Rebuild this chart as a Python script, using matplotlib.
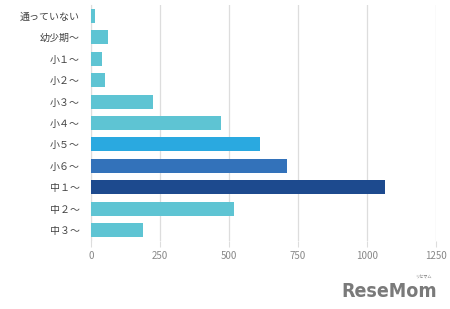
import matplotlib
matplotlib.use("Agg")
import matplotlib.pyplot as plt

plt.rcParams['font.family'] = ['Noto Sans CJK JP', 'DejaVu Sans']

categories = ["通っていない", "幼少期～", "小１～", "小２～", "小３～", "小４～",
              "小５～", "小６～", "中１～", "中２～", "中３～"]
values = [15, 62, 40, 51, 225, 472, 612, 711, 1066, 517, 190]
colors = ["#5EC4D3", "#5EC4D3", "#5EC4D3", "#5EC4D3", "#5EC4D3", "#5EC4D3",
          "#2AA9E0", "#3372BA", "#1D4A8E", "#5EC4D3", "#5EC4D3"]
xticks = [0, 250, 500, 750, 1000, 1250]

fig = plt.figure(figsize=(4.5, 3.09), dpi=100)
ax = fig.add_axes([91/450, 1-241/309, (436-91)/450, (241-5)/309])

ypos = list(range(len(categories)))
ax.barh(ypos, values, height=0.65, color=colors, edgecolor='none', zorder=3)
ax.set_ylim(len(categories) - 0.5, -0.5)
ax.set_xlim(0, 1250)
ax.set_yticks(ypos)
ax.set_yticklabels(categories, fontsize=7.2, color="#444444")
ax.set_xticks(xticks)
ax.set_xticklabels([str(t) for t in xticks], fontsize=7, color="#888888")
ax.grid(axis='x', color="#dddddd", linewidth=0.9, zorder=0)
for s in ['top', 'right', 'bottom']:
    ax.spines[s].set_visible(False)
ax.spines['left'].set_color("#dddddd")
ax.tick_params(axis='y', length=0, pad=8)
ax.tick_params(axis='x', length=4, color="#dddddd", pad=3)

fig.text(437/450, 1-297/309, "ReseMom", fontsize=14, fontweight='bold',
         fontstretch='condensed', color="#7a7a7a", ha='right', va='baseline',
         family='DejaVu Sans')
fig.text(423/450, 1-279/309, "リセマム", fontsize=3, color="#7a7a7a",
         ha='center', va='baseline')

fig.savefig("out.png", dpi=100)
